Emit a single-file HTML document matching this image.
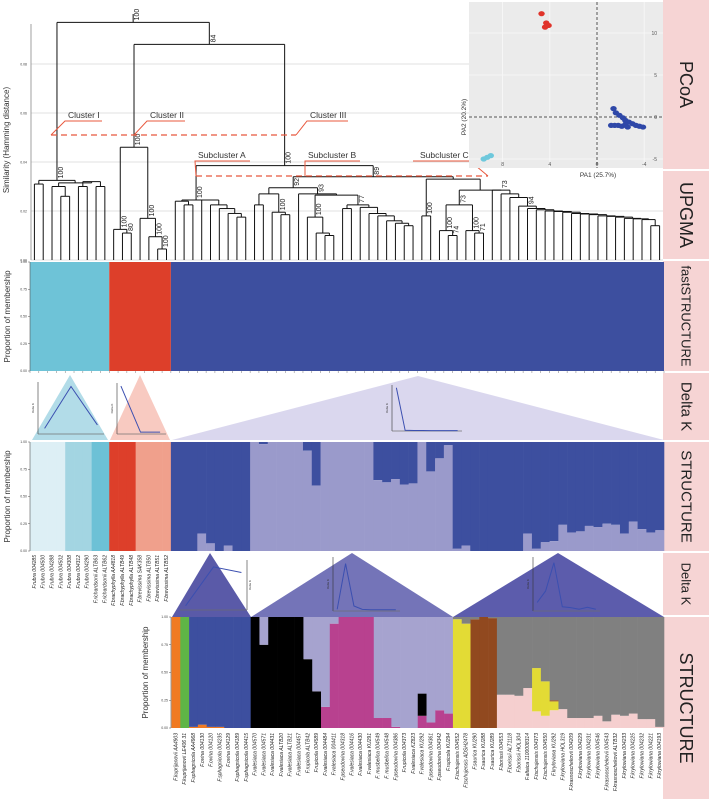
<!DOCTYPE html>
<html><head><meta charset="utf-8">
<style>
html,body{margin:0;padding:0;background:#fff;}
svg{display:block;font-family:"Liberation Sans",sans-serif;}
</style></head>
<body>
<svg id="fig" width="709" height="799" viewBox="0 0 709 799" xmlns="http://www.w3.org/2000/svg">
  <g id="side"></g>
  <g id="dendro"></g>
  <g id="pcoa"></g>
  <g id="fast"></g>
  <g id="dk1"></g>
  <g id="mid"></g>
  <g id="dk2"></g>
  <g id="bot"></g>
</svg>
<script>
// ---------- DATA ----------
const nIndividuals = 72;
const dendroTicks = [0, 0.02, 0.04, 0.06, 0.08];
const fastCounts = [9, 7, 56];
const fastColors = ["#6ec3d7", "#dd3f2a", "#3d4f9f"];
const midFirstColors = ["#ddeff5","#ddeff5","#ddeff5","#ddeff5","#a3d5e2","#a3d5e2","#a3d5e2","#6dc1d6","#6dc1d6","#dd3f2a","#dd3f2a","#dd3f2a","#f0a08c","#f0a08c","#f0a08c","#f0a08c"];
const midQ = [0,0,0,.16,.07,0,.05,0,0, 1,.98,1,1,1,1,.92,.60,1,1,1,1,1,1,.65,.63,.66,.61,.62,1,.73,.85,.97, .02,.05,0,0,0,0,0,0,.16,.02,.08,.09,.24,.17,.18,.23,.22,.25,.24,.16,.27,.20,.17,.19];
const midLabels = ["F.rubra 004285","F.rubra 004500","F.rubra 004288","F.rubra 004502","F.rubra 004308","F.rubra 004312","F.rubra 004290","F.richardsonii ALTB63","F.richardsonii ALTB62","F.brachyphylla AA4818","F.brachyphylla ALTB49","F.brachyphylla ALTB48","F.brevissima SAK358","F.brevissima ALTB50","F.brevissima ALTB51","F.brevissima ALTB52"];
const structTicks = [0, 0.25, 0.5, 0.75, 1];
const botColors = ["#f07a22","#5fb546","#3d4f9f","#000000","#a6a3cf","#b8418f","#e3db35","#91491f","#808080","#f5cfcf"];
const botStacks = [
 [[0,1]],[[1,1]],[[0,.01],[2,.99]],[[0,.03],[2,.97]],[[0,.01],[2,.99]],[[0,.01],[2,.99]],[[2,1]],[[2,1]],[[2,1]],
 [[3,1]],[[3,.75],[4,.25]],[[3,1]],[[3,1]],[[3,1]],[[3,1]],[[3,.62],[4,.38]],[[3,.33],[4,.67]],
 [[5,.19],[4,.81]],[[5,.94],[4,.06]],[[5,1]],[[5,1]],[[5,1]],[[5,1]],
 [[5,.09],[4,.91]],[[5,.09],[4,.91]],[[5,.01],[4,.99]],[[4,1]],[[4,1]],[[5,.11],[3,.20],[4,.69]],[[5,.05],[4,.95]],[[5,.16],[4,.84]],[[5,.13],[4,.87]],
 [[6,.98],[8,.02]],[[6,.94],[8,.06]],[[7,.98],[8,.02]],[[7,1]],[[7,.99],[8,.01]],
 [[9,.30],[8,.70]],[[9,.30],[8,.70]],[[9,.29],[8,.71]],[[9,.36],[8,.64]],[[9,.15],[6,.39],[8,.46]],[[9,.11],[6,.31],[8,.58]],[[9,.16],[6,.08],[7,.01],[8,.75]],
 [[9,.17],[8,.83]],[[9,.09],[8,.91]],[[9,.09],[8,.91]],[[9,.09],[8,.91]],[[9,.11],[8,.89]],[[9,.06],[8,.94]],[[9,.12],[8,.88]],[[9,.11],[8,.89]],[[9,.13],[8,.87]],[[9,.08],[8,.92]],[[9,.08],[8,.92]],[[9,.01],[8,.99]]
];
const botLabels = ["F.kuprijanovii AA4903","F.kuprijanovii LE406 31","F.sphagnicola AA4968","F.ovina 004130","F.ovina 004120","F.sphagnicola 004235","F.ovina 004129","F.sphagnicola 004189","F.sphagnicola 004415","F.valesiaca 004570","F.valesiaca 004571","F.valesiaca 004431","F.valesiaca ALTB20","F.valesiaca ALTB21","F.valesiaca 004457","F.rupicola ALTB42","F.rupicola 004589","F.valesiaca 004484","F.valesiaca 004411","F.pseudovina 004318","F.valesiaca 004416","F.valesiaca 004430","F.valesiaca KU291","F. musbelica 004549","F. musbelica 004548","F.pseudovina 004386","F.rupicola 004373","F.valesiaca KZ823","F.valesiaca KU292","F.pseudovina 004361","F.pseudovina 004342","F.rupicola KU294","F.tschujensis 004552","F.tschujensis ADSH2478","F.saurica KU290","F.saurica KU288","F.saurica KU289","F.borissii 004553","F.borissii ALT1118","F.borissii HOL304","F.altaica 1100008314","F.tschujensis 004373","F.tschujensis 004550","F.kryloviana KU292","F.krylowiana HOL319","F.krasnoschekovii 004209","F.krylowiana 004229","F.krylowiana 004231","F.krylowiana 004546","F.krasnoschekovii 004543","F.krasnoschekovii ALTB32","F.krylowiana 004233","F.krylowiana 004225","F.krylowiana 004232","F.krylowiana 004221","F.krylowiana 004193"];
const pcoaRedX = [4.7, 4.3, 4.1, 4.4];
const pcoaRedY = [12.3, 11.2, 10.9, 10.7];
const pcoaBlueX = [-1.4,-1.6,-1.9,-2.2,-2.4,-2.7,-3.0,-3.3,-3.6,-3.9,-1.8,-2.1,-2.4,-2.6,-1.5,-1.2];
const pcoaBlueY = [1.0,0.5,0.2,-0.1,-0.4,-0.6,-0.8,-1.0,-1.1,-1.2,-1.0,-1.1,-0.9,-1.2,-1.0,-1.0];
const pcoaCyanX = [9.6, 9.3, 9.0];
const pcoaCyanY = [-5.0, -4.8, -4.6];
const pcoaXTicks = [8, 4, 0, -4];
const pcoaYTicks = [10, 5, 0, -5];
const dk1aK = [2,3,4], dk1aV = [0.5, 4.2, 0.8];
const dk1bK = [2,3,4], dk1bV = [1550, 60, 60];
const dk1cK = [2,3,4,5,6,7,8,9], dk1cV = [6200, 100, 80, 70, 60, 60, 60, 60];
const dk2aK = [2,3,4], dk2aV = [0.03, 0.31, 0.27];
const dk2bK = [2,3,4,5,6,7,8,9], dk2bV = [20, 570, 60, 20, 15, 15, 15, 15];
const dk2cK = [2,3,4,5,6,7,8,9], dk2cV = [3, 7, 17, 1.5, 1.2, 0.6, 1.3, 0.6];

// ---------- HELPERS ----------
const NS = "http://www.w3.org/2000/svg";
function mk(parent, tag, attrs, text){
  const e = document.createElementNS(NS, tag);
  for (const k in attrs) e.setAttribute(k, attrs[k]);
  if (text !== undefined) e.textContent = text;
  parent.appendChild(e);
  return e;
}
const X0 = 30, X1 = 664, IW = (X1 - X0) / nIndividuals;
const ix = i => X0 + i * IW;

// ---------- SIDE LABELS ----------
const side = document.getElementById('side');
const sections = [["PCoA",0,169,18],["UPGMA",171,259,18],["fastSTRUCTURE",261,371,13],["Delta K",373,440,15],["STRUCTURE",442,551,15],["Delta K",553,615,13],["STRUCTURE",617,799,18]];
sections.forEach(s=>{
  const r = mk(side,'rect',{x:663,y:s[1],width:46,height:s[2]-s[1],fill:"#f6d4d4"});
  
  
  const cy=(s[1]+s[2])/2;
  const t = mk(side,'text',{x:686,y:cy,transform:`rotate(90 686 ${cy})`,"text-anchor":"middle","dominant-baseline":"central","font-size":s[3],fill:"#222"},s[0]);
  
  
});

// ---------- DENDROGRAM ----------
const dg = document.getElementById('dendro');
const dy = v => 260 - v * 2450;
dendroTicks.forEach(v=>{
  const l = mk(dg,'line',{x1:31,x2:663,y1:dy(v),y2:dy(v),stroke:"#d8d8d8","stroke-width":0.7});
  
  
  const t = mk(dg,'text',{x:27,y:dy(v)+1.5,"font-size":3.5,"text-anchor":"end",fill:"#444"},v.toFixed(2));
  
  
});
mk(dg,'line',{x1:31,x2:31,y1:24,y2:260,stroke:"#888","stroke-width":0.8});
const yt = mk(dg,'text',{x:9,y:140,transform:"rotate(-90 9 140)","text-anchor":"middle","font-size":8,fill:"#333"},"Similarity (Hamming distance)");



const chainLeaves = []; for(let i=56;i<72;i++) chainLeaves.push(i);
const chainHeights = [.021,.0205,.02,.0198,.0195,.019,.0188,.0185,.018,.0178,.0175,.017,.0168,.0165,.014];
function chain(k){ if(k===chainLeaves.length-1) return chainLeaves[k]; return {h:chainHeights[k],c:[chainLeaves[k],chain(k+1)]}; }
const C1 = {h:.0325,b:"100",c:[{h:.031,c:[0,1]},{h:.0315,c:[{h:.030,c:[2,{h:.026,c:[3,4]}]},{h:.032,c:[{h:.030,c:[5,6]},{h:.030,c:[7,8]}]}]}]};
const C2 = {h:.046,b:"100",c:[{h:.0125,b:"100",c:[9,{h:.011,b:"80",c:[10,11]}]},{h:.017,b:"100",c:[12,{h:.0095,b:"100",c:[13,{h:.0045,b:"100",c:[14,15]}]}]}]};
const SA = {h:.0245,b:"100",c:[{h:.024,c:[16,{h:.0225,c:[17,18]}]},{h:.0245,c:[19,{h:.0225,c:[20,{h:.021,c:[21,{h:.019,c:[22,{h:.0175,c:[23,24]}]}]}]}]}]};
const SB = {h:.0295,b:"92",c:[{h:.027,c:[{h:.0225,c:[25,26]},{h:.0195,b:"100",c:[27,{h:.0185,c:[28,29]}]}]},{h:.027,b:"93",c:[30,{h:.0265,c:[{h:.0175,b:"100",c:[31,{h:.011,c:[32,{h:.01,c:[33,34]}]}]},{h:.0225,b:"77",c:[{h:.021,c:[35,36]},{h:.0215,c:[37,{h:.019,c:[38,{h:.018,c:[39,{h:.016,c:[40,{h:.015,c:[41,{h:.014,c:[42,43]}]}]}]}]}]}]}]}]}]};
const SC = {h:.033,c:[{h:.018,b:"100",c:[44,45]},{h:.0285,c:[{h:.0225,b:"73",c:[{h:.012,b:"100",c:[46,{h:.010,b:"74",c:[47,48]}]},{h:.012,b:"100",c:[49,{h:.011,b:"71",c:[50,51]}]}]},{h:.0285,b:"73",c:[52,{h:.027,c:[53,{h:.0255,c:[54,{h:.022,b:"94",c:[55,chain(0)]}]}]}]}]}]};
const C3 = {h:.0385,b:"100",c:[SA,{h:.034,b:"89",c:[SB,SC]}]};
const ROOT = {h:.097,b:"100",c:[C1,{h:.088,b:"84",c:[C2,C3]}]};
function draw(node){
  if (typeof node === 'number') return {x: ix(node)+IW/2, h:0};
  const kids = node.c.map(draw);
  const y = dy(node.h);
  kids.forEach(k=>{
    const v = mk(dg,'line',{x1:k.x,x2:k.x,y1:dy(k.h),y2:y,stroke:"#111","stroke-width":1});
    
    
  });
  const hl = mk(dg,'line',{x1:kids[0].x,x2:kids[kids.length-1].x,y1:y,y2:y,stroke:"#111","stroke-width":1});
  
  
  const x = (kids[0].x + kids[kids.length-1].x)/2;
  if (node.b){
    const bx = x+6, by = y-2;
    const t = mk(dg,'text',{x:bx,y:by,transform:`rotate(-90 ${bx} ${by})`,"font-size":7,fill:"#222"},node.b);
    
    
  }
  return {x, h:node.h};
}
const rt = draw(ROOT);
mk(dg,'line',{x1:rt.x,x2:rt.x,y1:dy(ROOT.h),y2:14,stroke:"#111","stroke-width":1});
mk(dg,'line',{x1:51,x2:296,y1:135,y2:135,stroke:"#e8583e","stroke-width":1.3,"stroke-dasharray":"6 4"});
mk(dg,'line',{x1:196,x2:488,y1:176,y2:176,stroke:"#e8583e","stroke-width":1.3,"stroke-dasharray":"6 4"});
const clabels = [["Cluster I",68,118,51,135,102],["Cluster II",150,118,134,135,185],["Cluster III",310,118,296,135,348],["Subcluster A",198,158,196,176,250],["Subcluster B",308,158,305,176,360],["Subcluster C",420,158,488,176,470]];
clabels.forEach(c=>{
  const t = mk(dg,'text',{x:c[1],y:c[2],"font-size":8.5,fill:"#333"},c[0]);
  
  
  if (c[0]==="Subcluster C"){
    mk(dg,'polyline',{points:`${c[1]-7},${c[2]+3} ${c[5]},${c[2]+3} ${c[3]},${c[4]}`,fill:"none",stroke:"#e8583e","stroke-width":1});
  } else {
    mk(dg,'polyline',{points:`${c[5]},${c[2]+3} ${c[1]-3},${c[2]+3} ${c[3]},${c[4]}`,fill:"none",stroke:"#e8583e","stroke-width":1});
  }
});

// ---------- PCoA ----------
const pg = document.getElementById('pcoa');
const px = v => 597 - v*11.8, py = v => 117 - v*8.4;
mk(pg,'rect',{x:469,y:2,width:194,height:166,fill:"#ebebeb"});
pcoaXTicks.forEach(v=>{ mk(pg,'line',{x1:px(v),x2:px(v),y1:2,y2:168,stroke:"#f8f8f8","stroke-width":0.8});
  const t=mk(pg,'text',{x:px(v),y:166,"font-size":5,"text-anchor":"middle",fill:"#555"},v);
   });
pcoaYTicks.forEach(v=>{ mk(pg,'line',{x1:469,x2:663,y1:py(v),y2:py(v),stroke:"#f8f8f8","stroke-width":0.8});
  const t=mk(pg,'text',{x:657,y:py(v)+2,"font-size":5,"text-anchor":"end",fill:"#555"},v);
   });
mk(pg,'line',{x1:px(0),x2:px(0),y1:2,y2:168,stroke:"#555","stroke-width":1,"stroke-dasharray":"3 2"});
mk(pg,'line',{x1:469,x2:663,y1:py(0),y2:py(0),stroke:"#555","stroke-width":1,"stroke-dasharray":"3 2"});
function pts(xs,ys,col){ xs.forEach((v,i)=>{ const c=mk(pg,'ellipse',{cx:px(v),cy:py(ys[i]),rx:3.2,ry:2.6,fill:col});
   });}
pts(pcoaRedX,pcoaRedY,"#e0332a"); pts(pcoaBlueX,pcoaBlueY,"#2f48a8"); pts(pcoaCyanX,pcoaCyanY,"#6ec8dc");
const pxl=mk(pg,'text',{x:598,y:177,"font-size":6.5,"text-anchor":"middle",fill:"#333"},"PA1 (25.7%)");
 
const pyl=mk(pg,'text',{x:466,y:117,transform:"rotate(-90 466 117)","font-size":6.5,"text-anchor":"middle",fill:"#333"},"PA2 (20.2%)");
 

// ---------- STRUCTURE axes ----------
function yAxis(g, top, bot, axX, titleX){
  mk(g,'line',{x1:axX,x2:axX,y1:top,y2:bot,stroke:"#555","stroke-width":0.6});
  structTicks.forEach(v=>{ const y=bot-(bot-top)*v;
    mk(g,'line',{x1:axX-2,x2:axX,y1:y,y2:y,stroke:"#555","stroke-width":0.5});
    const t=mk(g,'text',{x:axX-3,y:y+1.2,"font-size":3.5,"text-anchor":"end",fill:"#444"},v.toFixed(2));
     });
  const cy=(top+bot)/2;
  const t=mk(g,'text',{x:titleX,y:cy,transform:`rotate(-90 ${titleX} ${cy})`,"font-size":8,"text-anchor":"middle",fill:"#333"},"Proportion of membership");
   
}

const fg = document.getElementById('fast');
const fTop=262, fBot=371;
let idx=0;
fastCounts.forEach((n,g)=>{ const r=mk(fg,'rect',{x:ix(idx),y:fTop,width:n*IW,height:fBot-fTop,fill:fastColors[g]});
    idx+=n; });
for(let i=0;i<=nIndividuals;i++){ mk(fg,'line',{x1:ix(i),x2:ix(i),y1:fBot,y2:fBot+2,stroke:"#555","stroke-width":0.4}); }
yAxis(fg,fTop,fBot,30,10);

const mg = document.getElementById('mid');
const mTop=442, mBot=551, mH=mBot-mTop;
midFirstColors.forEach((c,i)=>{ const r=mk(mg,'rect',{x:ix(i),y:mTop,width:IW+0.3,height:mH,fill:c});
   });
midQ.forEach((q,j)=>{ const i=j+16;
  const r1=mk(mg,'rect',{x:ix(i),y:mTop,width:IW+0.3,height:mH*(1-q),fill:"#3d4f9f"});
   
  const r2=mk(mg,'rect',{x:ix(i),y:mTop+mH*(1-q),width:IW+0.3,height:mH*q,fill:"#9a9acb"});
   });
midLabels.forEach((l,i)=>{ const x=ix(i)+IW/2+1.5, y=555;
  const t=mk(mg,'text',{x:x,y:y,transform:`rotate(-90 ${x} ${y})`,"font-size":5,"font-style":"italic","text-anchor":"end",fill:"#222"},l);
   });
yAxis(mg,mTop,mBot,30,10);

const bg = document.getElementById('bot');
const bTop=617, bBot=728, bH=bBot-bTop, bX0=171.5, bIW=(664-171.5)/botStacks.length;
botStacks.forEach((st,i)=>{ let acc=0;
  st.forEach(s=>{ const h=bH*s[1]; const r=mk(bg,'rect',{x:bX0+i*bIW,y:bBot-acc-h,width:bIW+0.3,height:h,fill:botColors[s[0]]});
      acc+=h; });});
botLabels.forEach((l,i)=>{ const x=bX0+i*bIW+bIW/2+1.5, y=733;
  const t=mk(bg,'text',{x:x,y:y,transform:`rotate(-90 ${x} ${y})`,"font-size":5,"font-style":"italic","text-anchor":"end",fill:"#222"},l);
   });
yAxis(bg,bTop,bBot,171,148);

function tri(g,ax,ay,bx1,bx2,by,col,op){ const p=mk(g,'polygon',{points:`${ax},${ay} ${bx1},${by} ${bx2},${by}`,fill:col,"fill-opacity":op});
    }
function inset(g,x0,y0,x1,y1,ks,vs,kmin,kmax,vmax,lineCol,rightAxis){
  const sx=k=>x0+(k-kmin)/(kmax-kmin)*(x1-x0), sy=v=>y1-(v/vmax)*(y1-y0);
  const axX = rightAxis? x1 : x0;
  mk(g,'line',{x1:axX,x2:axX,y1:y0,y2:y1,stroke:"#333","stroke-width":0.6});
  mk(g,'line',{x1:x0,x2:x1,y1:y1,y2:y1,stroke:"#333","stroke-width":0.6});
  mk(g,'line',{x1:x0,x2:x1,y1:sy(0),y2:sy(0),stroke:"#999","stroke-width":0.4});
  const l=mk(g,'polyline',{points:ks.map((k,i)=>`${sx(k)},${sy(vs[i])}`).join(' '),fill:"none",stroke:lineCol,"stroke-width":1});
   
  const tx=rightAxis? x1+4 : x0-4, ty=(y0+y1)/2;
  const t=mk(g,'text',{x:tx,y:ty,transform:`rotate(-90 ${tx} ${ty})`,"font-size":3,"text-anchor":"middle",fill:"#333"},"Delta K");
   
}
const d1 = document.getElementById('dk1');
tri(d1,70,375,32,108,440,"#9fd3e2",0.8);
tri(d1,140,375,110,170,440,"#f5b3a6",0.7);
tri(d1,418,376,172,664,440,"#d6d3ec",0.9);
inset(d1,38,382,104,434,dk1aK,dk1aV,1.75,4.25,4.6,"#3b4fb0",false);
inset(d1,117,383,166,434,dk1bK,dk1bV,1.8,4.3,1650,"#3b4fb0",false);
inset(d1,392,385,462,431,dk1cK,dk1cV,1.5,9.5,6600,"#3b4fb0",false);
const d2 = document.getElementById('dk2');
tri(d2,210,553,172,251,617,"#5a5aa8",1);
tri(d2,352,553,251,453,617,"#7474b8",1);
tri(d2,558,553,453,664,617,"#5c5cac",1);
inset(d2,180,560,247,610,dk2aK,dk2aV,1.8,4.2,0.36,"#3b4fb0",true);
inset(d2,333,557,400,611,dk2bK,dk2bV,1.5,9.5,650,"#3b4fb0",false);
inset(d2,533,557,600,611,dk2cK,dk2cV,1.5,9.5,19,"#3b4fb0",false);
</script>
</body></html>
